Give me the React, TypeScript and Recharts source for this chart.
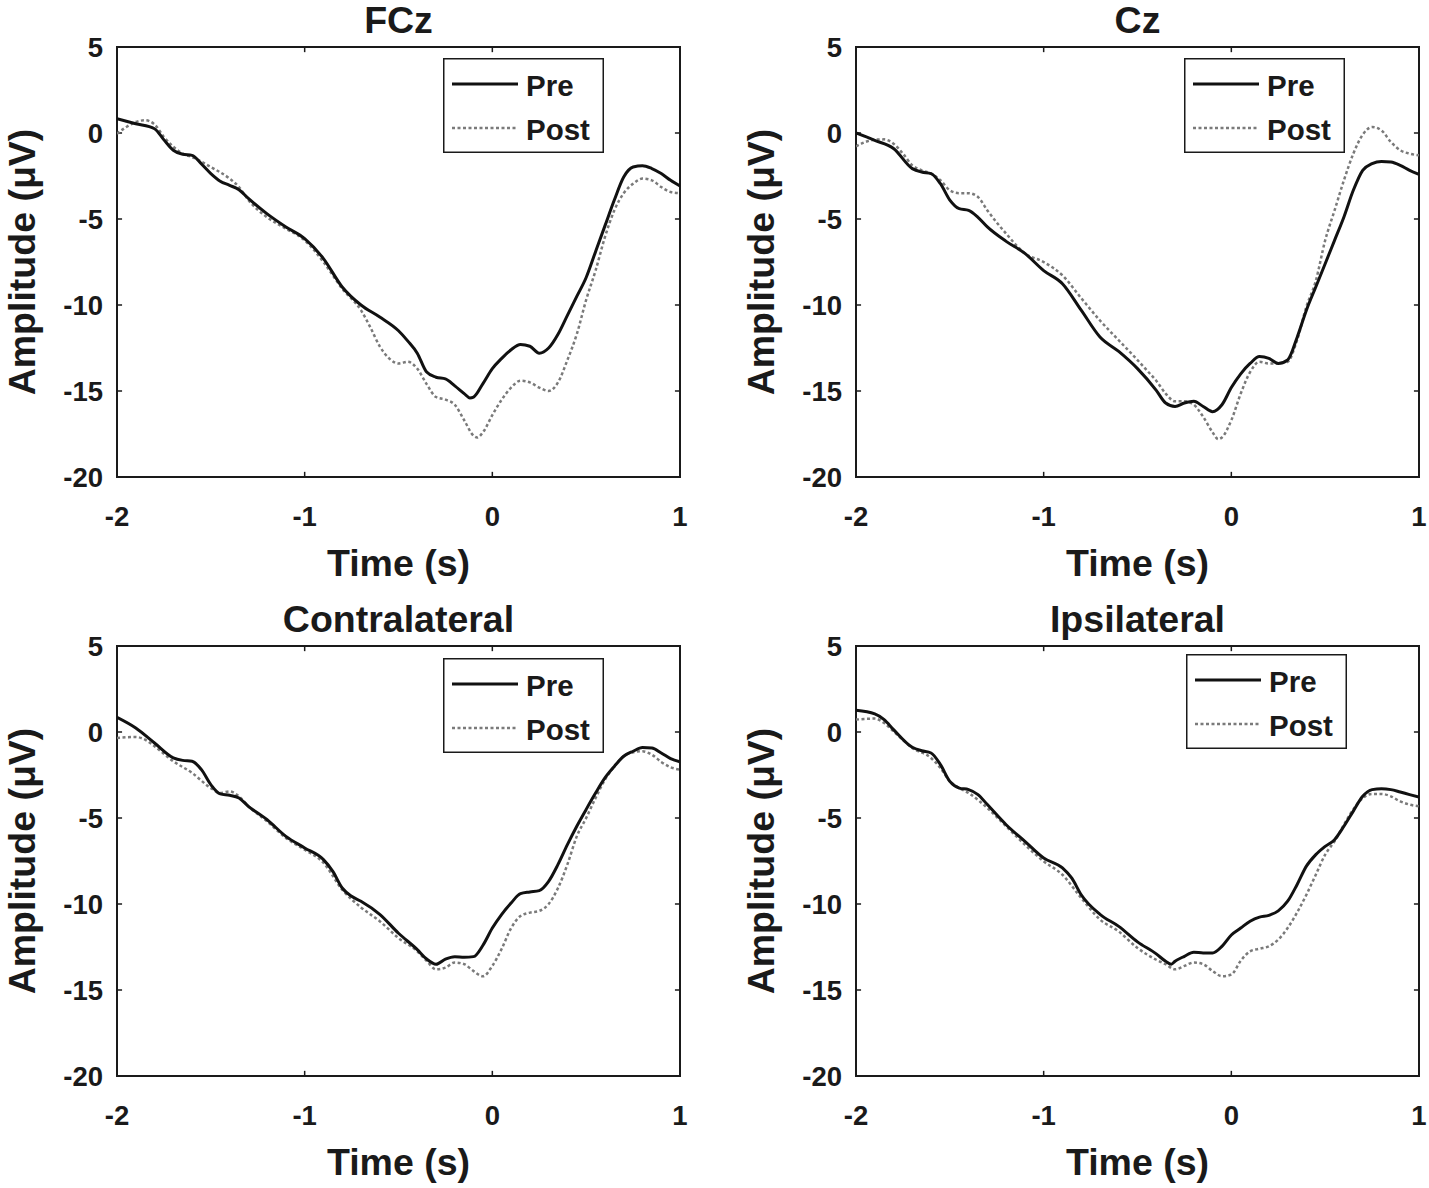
import React from "react";
import {
  LineChart,
  Line,
  XAxis,
  YAxis,
  Legend,
  ReferenceArea,
  ReferenceLine,
} from "recharts";

// time (s) / amplitude (µV) pairs
const timeTicks = [-2, -1, 0, 1];
const ampTicks = [5, 0, -5, -10, -15, -20];

const fczPre: [number, number][] = [
  [-2, 0.83], [-1.9, 0.54], [-1.8, 0.25], [-1.75, -0.4], [-1.7, -1.0], [-1.65, -1.24],
  [-1.6, -1.3], [-1.55, -1.8], [-1.5, -2.36], [-1.45, -2.8], [-1.4, -3.04], [-1.35, -3.3],
  [-1.3, -3.8], [-1.2, -4.7], [-1.1, -5.46], [-1.0, -6.14], [-0.9, -7.3], [-0.8, -8.95],
  [-0.7, -10.0], [-0.6, -10.7], [-0.5, -11.5], [-0.45, -12.1], [-0.4, -12.8], [-0.35, -13.9],
  [-0.3, -14.2], [-0.25, -14.3], [-0.2, -14.7], [-0.15, -15.15], [-0.12, -15.4], [-0.1, -15.35],
  [-0.05, -14.57], [0, -13.7], [0.05, -13.1], [0.1, -12.6], [0.15, -12.3], [0.2, -12.4],
  [0.25, -12.8], [0.3, -12.5], [0.35, -11.7], [0.4, -10.6], [0.45, -9.5], [0.5, -8.4],
  [0.55, -6.9], [0.6, -5.4], [0.65, -3.9], [0.7, -2.56], [0.75, -1.98], [0.8, -1.9],
  [0.85, -2.07], [0.9, -2.36], [0.95, -2.75], [1.0, -3.08],
];
const fczPost: [number, number][] = [
  [-2, -0.04], [-1.95, 0.35], [-1.9, 0.64], [-1.85, 0.74], [-1.8, 0.5], [-1.75, -0.23],
  [-1.7, -0.8], [-1.65, -1.2], [-1.6, -1.4], [-1.5, -1.98], [-1.4, -2.65], [-1.35, -3.14],
  [-1.3, -3.9], [-1.2, -4.9], [-1.1, -5.56], [-1.0, -6.24], [-0.9, -7.5], [-0.8, -9.05],
  [-0.7, -10.3], [-0.65, -11.3], [-0.6, -12.4], [-0.55, -13.1], [-0.5, -13.4], [-0.45, -13.3],
  [-0.4, -13.7], [-0.35, -14.6], [-0.3, -15.35], [-0.25, -15.5], [-0.2, -15.8], [-0.15, -16.7],
  [-0.1, -17.6], [-0.08, -17.7], [-0.05, -17.4], [0, -16.4], [0.05, -15.5], [0.1, -14.8],
  [0.15, -14.4], [0.2, -14.5], [0.25, -14.8], [0.3, -15.0], [0.35, -14.5], [0.4, -13.2],
  [0.45, -11.7], [0.5, -9.7], [0.55, -8.0], [0.6, -6.05], [0.65, -4.5], [0.7, -3.5],
  [0.75, -2.95], [0.8, -2.65], [0.85, -2.75], [0.9, -3.14], [0.95, -3.43], [1.0, -3.5],
];

const czPre: [number, number][] = [
  [-2, 0], [-1.9, -0.43], [-1.8, -0.9], [-1.7, -2.07], [-1.65, -2.27], [-1.6, -2.36],
  [-1.55, -2.95], [-1.5, -3.9], [-1.45, -4.4], [-1.4, -4.5], [-1.35, -4.9], [-1.3, -5.46],
  [-1.2, -6.3], [-1.1, -7.0], [-1.0, -8.0], [-0.9, -8.76], [-0.8, -10.3], [-0.7, -11.86],
  [-0.6, -12.7], [-0.5, -13.7], [-0.4, -14.96], [-0.35, -15.7], [-0.3, -15.9], [-0.25, -15.7],
  [-0.2, -15.6], [-0.15, -15.9], [-0.1, -16.2], [-0.05, -15.8], [0, -14.8], [0.05, -14.0],
  [0.1, -13.4], [0.15, -13.0], [0.2, -13.1], [0.25, -13.4], [0.3, -13.2], [0.35, -11.9],
  [0.4, -10.3], [0.45, -8.95], [0.5, -7.6], [0.55, -6.24], [0.6, -4.88], [0.65, -3.33],
  [0.7, -2.17], [0.75, -1.78], [0.8, -1.65], [0.85, -1.69], [0.9, -1.88], [0.95, -2.17],
  [1.0, -2.4],
];
const czPost: [number, number][] = [
  [-2, -0.78], [-1.95, -0.52], [-1.9, -0.39], [-1.85, -0.37], [-1.8, -0.62], [-1.75, -1.2],
  [-1.7, -1.88], [-1.65, -2.17], [-1.6, -2.36], [-1.55, -2.75], [-1.5, -3.33], [-1.45, -3.5],
  [-1.4, -3.5], [-1.35, -3.72], [-1.3, -4.5], [-1.2, -5.85], [-1.1, -7.0], [-1.0, -7.5],
  [-0.9, -8.28], [-0.8, -9.6], [-0.7, -10.9], [-0.6, -12.05], [-0.5, -13.2], [-0.45, -13.8],
  [-0.4, -14.4], [-0.35, -15.15], [-0.3, -15.6], [-0.25, -15.6], [-0.2, -15.8], [-0.15, -16.5],
  [-0.1, -17.4], [-0.07, -17.8], [-0.05, -17.7], [0, -16.7], [0.05, -15.15], [0.1, -13.9],
  [0.15, -13.3], [0.2, -13.4], [0.25, -13.4], [0.3, -13.3], [0.35, -12.05], [0.4, -10.1],
  [0.45, -8.6], [0.5, -6.24], [0.55, -4.5], [0.6, -2.75], [0.65, -1.2], [0.7, -0.1],
  [0.75, 0.35], [0.8, 0.15], [0.85, -0.52], [0.9, -1.0], [0.95, -1.2], [1.0, -1.3],
];

const contraPre: [number, number][] = [
  [-2, 0.85], [-1.9, 0.23], [-1.8, -0.64], [-1.7, -1.5], [-1.65, -1.65], [-1.6, -1.7],
  [-1.55, -2.19], [-1.5, -3.06], [-1.45, -3.6], [-1.4, -3.68], [-1.35, -3.84], [-1.3, -4.32],
  [-1.2, -5.1], [-1.1, -6.07], [-1.0, -6.74], [-0.9, -7.42], [-0.85, -8.1], [-0.8, -9.07],
  [-0.75, -9.55], [-0.7, -9.84], [-0.6, -10.6], [-0.5, -11.7], [-0.4, -12.65], [-0.35, -13.2],
  [-0.3, -13.5], [-0.25, -13.2], [-0.2, -13.06], [-0.15, -13.1], [-0.1, -13.06], [-0.05, -12.4],
  [0, -11.4], [0.05, -10.6], [0.1, -9.94], [0.15, -9.4], [0.2, -9.3], [0.25, -9.22],
  [0.3, -8.68], [0.35, -7.7], [0.4, -6.55], [0.45, -5.48], [0.5, -4.5], [0.55, -3.55],
  [0.6, -2.67], [0.65, -2.0], [0.7, -1.41], [0.75, -1.12], [0.8, -0.9], [0.85, -0.93],
  [0.9, -1.22], [0.95, -1.55], [1.0, -1.74],
];
const contraPost: [number, number][] = [
  [-2, -0.35], [-1.9, -0.29], [-1.85, -0.45], [-1.8, -0.83], [-1.7, -1.7], [-1.6, -2.38],
  [-1.5, -3.26], [-1.45, -3.55], [-1.4, -3.45], [-1.35, -3.74], [-1.3, -4.32], [-1.2, -5.2],
  [-1.1, -6.16], [-1.0, -6.84], [-0.9, -7.6], [-0.8, -9.17], [-0.7, -10.2], [-0.6, -11.0],
  [-0.5, -11.98], [-0.4, -12.75], [-0.35, -13.3], [-0.3, -13.8], [-0.25, -13.7], [-0.2, -13.4],
  [-0.15, -13.5], [-0.1, -13.9], [-0.05, -14.2], [0, -13.6], [0.05, -12.6], [0.1, -11.4],
  [0.15, -10.7], [0.2, -10.5], [0.25, -10.4], [0.3, -10.0], [0.35, -9.07], [0.4, -7.7],
  [0.45, -6.07], [0.5, -5.0], [0.55, -3.84], [0.6, -2.77], [0.65, -2.0], [0.7, -1.41],
  [0.75, -1.18], [0.8, -1.12], [0.85, -1.32], [0.9, -1.74], [0.95, -2.05], [1.0, -2.19],
];

const ipsiPre: [number, number][] = [
  [-2, 1.26], [-1.9, 1.05], [-1.85, 0.72], [-1.8, 0.14], [-1.7, -0.89], [-1.65, -1.09],
  [-1.6, -1.22], [-1.55, -1.9], [-1.5, -2.87], [-1.45, -3.26], [-1.4, -3.35], [-1.35, -3.64],
  [-1.3, -4.22], [-1.2, -5.39], [-1.1, -6.36], [-1.0, -7.33], [-0.9, -7.9], [-0.85, -8.5],
  [-0.8, -9.46], [-0.7, -10.6], [-0.6, -11.3], [-0.5, -12.2], [-0.4, -12.9], [-0.35, -13.33],
  [-0.32, -13.5], [-0.3, -13.33], [-0.25, -13.04], [-0.2, -12.8], [-0.15, -12.85], [-0.1, -12.85],
  [-0.05, -12.46], [0, -11.8], [0.05, -11.4], [0.1, -11.0], [0.15, -10.76], [0.2, -10.66],
  [0.25, -10.4], [0.3, -9.84], [0.35, -8.88], [0.4, -7.8], [0.45, -7.13], [0.5, -6.65],
  [0.55, -6.26], [0.6, -5.48], [0.65, -4.6], [0.7, -3.74], [0.75, -3.35], [0.8, -3.3],
  [0.85, -3.35], [0.9, -3.49], [0.95, -3.64], [1.0, -3.78],
];
const ipsiPost: [number, number][] = [
  [-2, 0.72], [-1.9, 0.78], [-1.85, 0.52], [-1.8, 0.04], [-1.7, -0.93], [-1.6, -1.51],
  [-1.55, -2.09], [-1.5, -2.87], [-1.45, -3.26], [-1.4, -3.55], [-1.3, -4.42], [-1.2, -5.48],
  [-1.1, -6.55], [-1.0, -7.52], [-0.9, -8.3], [-0.8, -9.65], [-0.7, -10.9], [-0.6, -11.6],
  [-0.5, -12.56], [-0.4, -13.24], [-0.35, -13.5], [-0.3, -13.8], [-0.25, -13.6], [-0.2, -13.4],
  [-0.15, -13.5], [-0.1, -13.9], [-0.05, -14.2], [0, -14.1], [0.05, -13.3], [0.1, -12.75],
  [0.15, -12.6], [0.2, -12.46], [0.25, -12.07], [0.3, -11.4], [0.35, -10.5], [0.4, -9.46],
  [0.45, -8.3], [0.5, -7.13], [0.55, -6.36], [0.6, -5.39], [0.65, -4.5], [0.7, -3.84],
  [0.75, -3.6], [0.8, -3.6], [0.85, -3.74], [0.9, -4.03], [0.95, -4.22], [1.0, -4.32],
];

const FONT = '"Liberation Sans", Arial, Helvetica, sans-serif';
const INK = "#1a1a1a";

const toRows = (pts: [number, number][]) => pts.map(([t, v]) => ({ t, v }));

function LegendBox({ payload }: any) {
  return (
    <svg width={161} height={95} style={{ display: "block" }}>
      <rect x={0.75} y={0.75} width={159.5} height={93.5} fill="#fff" stroke={INK} strokeWidth={1.5} />
      {(payload || []).map((entry: any, i: number) => {
        const cy = 26 + i * 44;
        return (
          <g key={entry.value}>
            <line
              x1={9}
              x2={75}
              y1={cy}
              y2={cy}
              stroke={entry.color}
              strokeWidth={entry.payload?.strokeWidth ?? 2}
              strokeDasharray={entry.payload?.strokeDasharray}
            />
            <text
              x={83}
              y={cy + 1}
              dominantBaseline="central"
              fontFamily={FONT}
              fontWeight={700}
              fontSize={29.5}
              fill={INK}
            >
              {entry.value}
            </text>
          </g>
        );
      })}
    </svg>
  );
}

function Panel({
  title,
  pre,
  post,
  left,
  top,
  legendLeft,
  legendTop,
}: {
  title: string;
  pre: [number, number][];
  post: [number, number][];
  left: number;
  top: number;
  legendLeft: number;
  legendTop: number;
}) {
  const tickStyle = { fontSize: 27.5, fontWeight: 700, fill: INK, fontFamily: FONT };
  const textProps = { fontFamily: FONT, fontWeight: 700, fontSize: 37.5, fill: INK };
  return (
    <div style={{ position: "absolute", left, top }}>
      <LineChart width={700} height={589} margin={{ top: 47, right: 20, bottom: 52, left: 0 }}>
        <XAxis
          dataKey="t"
          type="number"
          domain={[-2, 1]}
          ticks={timeTicks}
          allowDataOverflow
          axisLine={false}
          tickLine={false}
          tickSize={0}
          tickMargin={29}
          height={60}
          tick={tickStyle}
          label={(p: any) => {
            const vb = p.viewBox;
            return (
              <text
                x={vb.x + vb.width / 2}
                y={vb.y + 86}
                textAnchor="middle"
                dominantBaseline="central"
                {...textProps}
              >
                Time (s)
              </text>
            );
          }}
        />
        <YAxis
          type="number"
          domain={[-20, 5]}
          ticks={ampTicks}
          allowDataOverflow
          axisLine={false}
          tickLine={false}
          tickSize={0}
          tickMargin={14}
          width={117}
          tick={tickStyle}
          label={(p: any) => {
            const vb = p.viewBox;
            const cx = vb.x + 22;
            const cy = vb.y + vb.height / 2;
            return (
              <text
                x={cx}
                y={cy}
                transform={`rotate(-90 ${cx} ${cy})`}
                textAnchor="middle"
                dominantBaseline="central"
                {...textProps}
              >
                Amplitude (μV)
              </text>
            );
          }}
        />
        <ReferenceArea
          x1={-2}
          x2={1}
          y1={-20}
          y2={5}
          fill="none"
          stroke={INK}
          strokeWidth={2}
          label={(p: any) => {
            const vb = p.viewBox;
            return (
              <text
                x={vb.x + vb.width / 2}
                y={vb.y - 27}
                textAnchor="middle"
                dominantBaseline="central"
                {...textProps}
              >
                {title}
              </text>
            );
          }}
        />
        {[-1, 0].map((t) => (
          <ReferenceLine key={`b${t}`} segment={[{ x: t, y: -20 }, { x: t, y: -19.7 }]} stroke={INK} strokeWidth={1.5} />
        ))}
        {[-1, 0].map((t) => (
          <ReferenceLine key={`t${t}`} segment={[{ x: t, y: 5 }, { x: t, y: 4.7 }]} stroke={INK} strokeWidth={1.5} />
        ))}
        {[0, -5, -10, -15].map((a) => (
          <ReferenceLine key={`l${a}`} segment={[{ x: -2, y: a }, { x: -1.973, y: a }]} stroke={INK} strokeWidth={1.5} />
        ))}
        {[0, -5, -10, -15].map((a) => (
          <ReferenceLine key={`r${a}`} segment={[{ x: 1, y: a }, { x: 0.973, y: a }]} stroke={INK} strokeWidth={1.5} />
        ))}
        <Line
          data={toRows(post)}
          dataKey="v"
          name="Post"
          type="monotone"
          stroke="#7a7a7a"
          strokeWidth={2.5}
          strokeDasharray="3 2.5"
          dot={false}
          legendType="line"
          isAnimationActive={false}
        />
        <Line
          data={toRows(pre)}
          dataKey="v"
          name="Pre"
          type="monotone"
          stroke="#111"
          strokeWidth={3}
          dot={false}
          legendType="line"
          isAnimationActive={false}
        />
        <Legend
          layout="vertical"
          align="center"
          verticalAlign="middle"
          wrapperStyle={{ left: legendLeft, top: legendTop, width: 161, height: 95 }}
          content={(props: any) => {
            const items = [...(props.payload || [])].sort((a: any, b: any) =>
              a.value === "Pre" ? -1 : b.value === "Pre" ? 1 : 0,
            );
            return <LegendBox payload={items} />;
          }}
        />
      </LineChart>
    </div>
  );
}

export default function App() {
  return (
    <div style={{ position: "absolute", left: 0, top: 0, width: 1429, height: 1188, background: "#fff" }}>
      <Panel title="FCz" pre={fczPre} post={fczPost} left={0} top={0} legendLeft={443} legendTop={58} />
      <Panel title="Cz" pre={czPre} post={czPost} left={739} top={0} legendLeft={445} legendTop={58} />
      <Panel
        title="Contralateral"
        pre={contraPre}
        post={contraPost}
        left={0}
        top={599}
        legendLeft={443}
        legendTop={59}
      />
      <Panel
        title="Ipsilateral"
        pre={ipsiPre}
        post={ipsiPost}
        left={739}
        top={599}
        legendLeft={447}
        legendTop={55}
      />
    </div>
  );
}
